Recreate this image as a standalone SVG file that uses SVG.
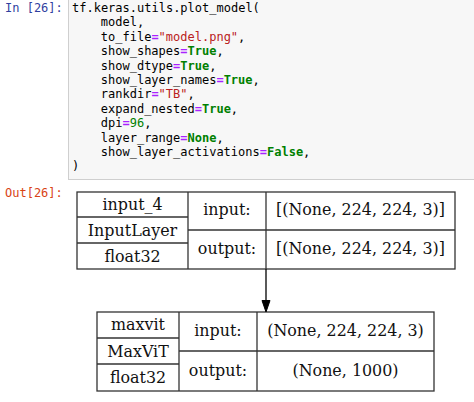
<svg xmlns="http://www.w3.org/2000/svg" width="474" height="402" viewBox="0 0 474 402">
<defs>
<style>
.code{font-family:"DejaVu Sans Mono",monospace;font-size:12px;fill:#000;white-space:pre}
.s{fill:#ba2121}
.k{fill:#008000;font-weight:bold}
.n{fill:#008000}
.o{fill:#aa22ff;font-weight:bold}
.prompt{font-family:"DejaVu Sans Mono",monospace;font-size:12px}
.cell{fill:none;stroke:#333;stroke-width:1.3}
.t{font-family:"DejaVu Serif",serif;font-size:15.9px;fill:#111;text-anchor:middle}
</style>
</defs>
<rect width="474" height="402" fill="#fff"/>
<g id="code-cell">
<rect x="68.5" y="-2" width="410" height="181.5" fill="#f7f7f7" stroke="#cfcfcf" stroke-width="1"/>
<text class="prompt" x="5" y="12" fill="#303f9f">In [26]:</text>
<text class="code" x="72" y="12">tf.keras.utils.plot_model(</text>
<text class="code" x="100.8" y="26.4">model,</text>
<text class="code" x="100.8" y="40.8">to_file<tspan class="o">=</tspan><tspan class="s">"model.png"</tspan>,</text>
<text class="code" x="100.8" y="55.2">show_shapes<tspan class="o">=</tspan><tspan class="k">True</tspan>,</text>
<text class="code" x="100.8" y="69.6">show_dtype<tspan class="o">=</tspan><tspan class="k">True</tspan>,</text>
<text class="code" x="100.8" y="84">show_layer_names<tspan class="o">=</tspan><tspan class="k">True</tspan>,</text>
<text class="code" x="100.8" y="98.4">rankdir<tspan class="o">=</tspan><tspan class="s">"TB"</tspan>,</text>
<text class="code" x="100.8" y="112.8">expand_nested<tspan class="o">=</tspan><tspan class="k">True</tspan>,</text>
<text class="code" x="100.8" y="127.2">dpi<tspan class="o">=</tspan><tspan class="n">96</tspan>,</text>
<text class="code" x="100.8" y="141.6">layer_range<tspan class="o">=</tspan><tspan class="k">None</tspan>,</text>
<text class="code" x="100.8" y="156">show_layer_activations<tspan class="o">=</tspan><tspan class="k">False</tspan>,</text>
<text class="code" x="72" y="170.4">)</text>
</g>
<text class="prompt" x="5" y="197" fill="#d84315">Out[26]:</text>
<g id="node-input_4">
<rect class="cell" x="77" y="192" width="378" height="77"/>
<line class="cell" x1="188" y1="192" x2="188" y2="269"/>
<line class="cell" x1="266" y1="192" x2="266" y2="269"/>
<line class="cell" x1="77" y1="217" x2="188" y2="217"/>
<line class="cell" x1="77" y1="243" x2="188" y2="243"/>
<line class="cell" x1="188" y1="230" x2="455" y2="230"/>
<text class="t" x="132.5" y="210">input_4</text>
<text class="t" x="132.5" y="236">InputLayer</text>
<text class="t" x="132.5" y="262">float32</text>
<text class="t" x="227" y="215">input:</text>
<text class="t" x="227" y="254">output:</text>
<text class="t" x="360.5" y="215">[(None, 224, 224, 3)]</text>
<text class="t" x="360.5" y="254">[(None, 224, 224, 3)]</text>
</g>
<g id="node-maxvit">
<rect class="cell" x="97" y="312" width="337" height="79"/>
<line class="cell" x1="179" y1="312" x2="179" y2="391"/>
<line class="cell" x1="257" y1="312" x2="257" y2="391"/>
<line class="cell" x1="97" y1="338" x2="179" y2="338"/>
<line class="cell" x1="97" y1="364" x2="179" y2="364"/>
<line class="cell" x1="179" y1="351" x2="434" y2="351"/>
<text class="t" x="138" y="330">maxvit</text>
<text class="t" x="138" y="357">MaxViT</text>
<text class="t" x="138" y="383">float32</text>
<text class="t" x="218" y="336">input:</text>
<text class="t" x="218" y="376">output:</text>
<text class="t" x="345.5" y="336">(None, 224, 224, 3)</text>
<text class="t" x="345.5" y="376">(None, 1000)</text>
</g>
<g id="connectors">
<line x1="266" y1="269" x2="266" y2="301" stroke="#000" stroke-width="1.3"/>
<path d="M262,300.5 L270,300.5 L266,312 z" fill="#000" stroke="#000" stroke-width="1"/>
</g>
</svg>
